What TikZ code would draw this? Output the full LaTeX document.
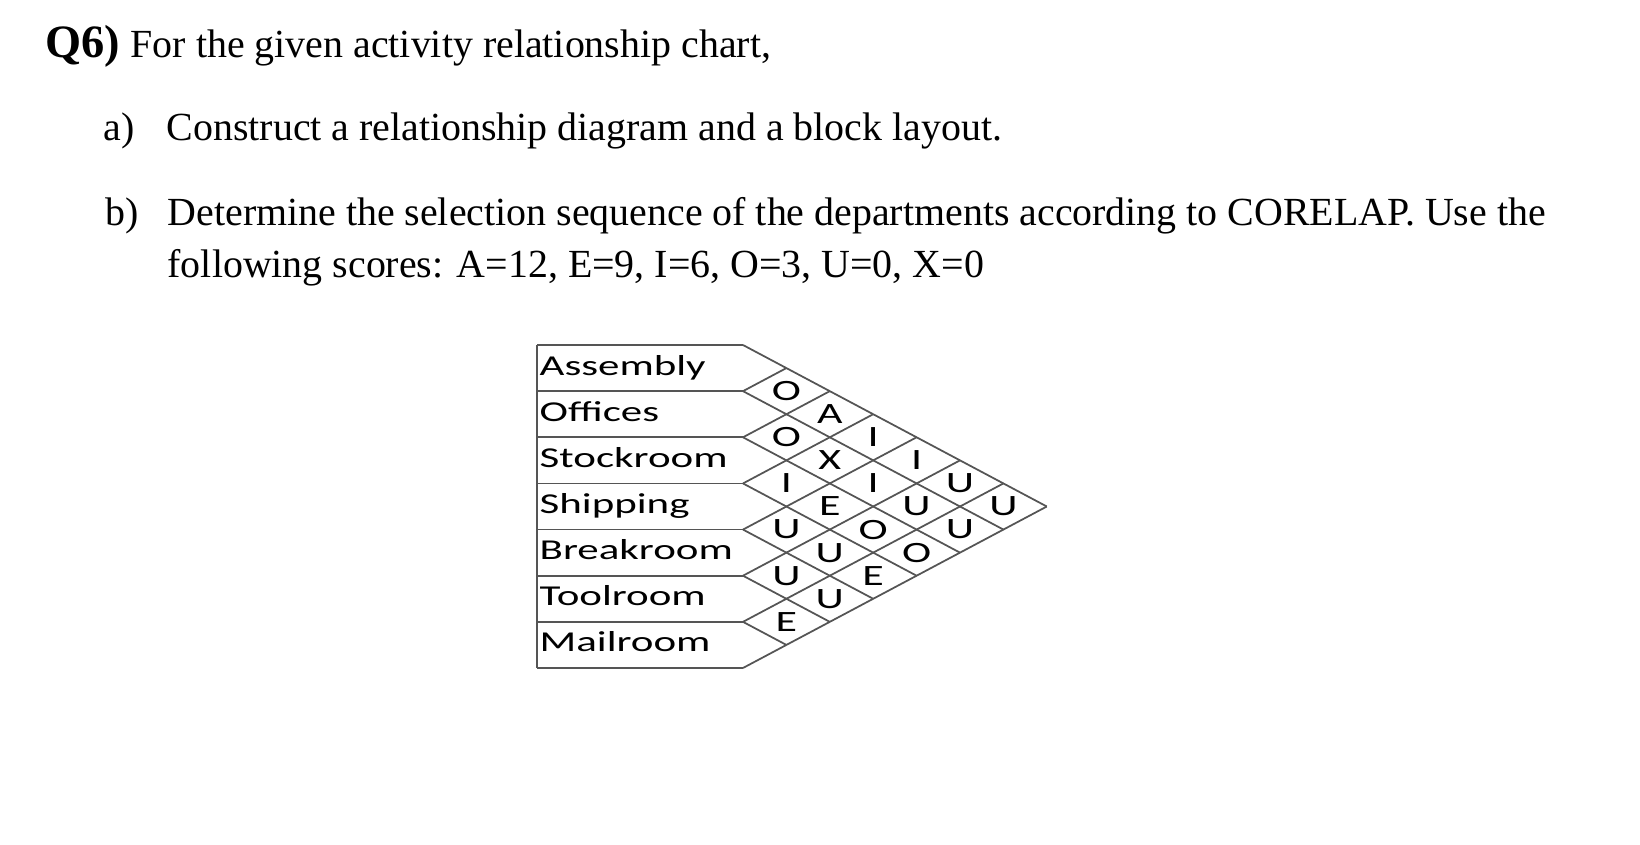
\documentclass[tikz,border=0pt]{standalone}
\usepackage{fontspec}
\setmainfont{Liberation Serif}
\newfontfamily\chartfont[FakeStretch=1.49]{Carlito}
\usetikzlibrary{positioning}
\definecolor{gridline}{HTML}{555555}

\begin{document}
\begin{tikzpicture}[x=0.1mm,y=-0.1mm,
  txt/.style={anchor=base west,inner sep=0pt,font=\fontsize{11.35pt}{13pt}\selectfont},
  dept/.style={anchor=base west,inner sep=0pt,font=\chartfont\fontsize{8.2pt}{10pt}\selectfont},
  rel/.style={inner sep=0pt,font=\chartfont\fontsize{8.4pt}{10pt}\selectfont},
  grid/.style={draw=gridline,line width=0.5pt}]
  \useasboundingbox (0,0) rectangle (1640,844);
  % question text
  \node[txt,font=\bfseries\fontsize{13.2pt}{15pt}\selectfont] (qnum) at (45,57) {Q6)};
  \node[txt] (qline) at (130,57) {For the given activity relationship chart,};
  \node[txt] (pa) at (103,140) {a)};
  \node[txt] (patext) at (166,140) {Construct a relationship diagram and a block layout.};
  \node[txt] (pb) at (105,225) {b)};
  \node[txt] (pbtext) at (167,225) {Determine the selection sequence of the departments according to CORELAP. Use the};
  \node[txt] (pbtext2) at (167,277) {following scores: A=12, E=9, I=6, O=3, U=0, X=0};
  % chart: rows
  \draw[grid] (537,345) -- (537,668);
  \foreach \b in {0,...,7}{\draw[grid] (537,{345+\b*46.14}) -- (743,{345+\b*46.14});}
  \foreach \b in {0,...,6}{\draw[grid] (743,{345+\b*46.14}) -- ++({(7-\b)*43.4},{(7-\b)*23.07});}
  \foreach \b in {1,...,7}{\draw[grid] (743,{345+\b*46.14}) -- ++({\b*43.4},{-\b*23.07});}
  % departments
  \foreach \k/\d in {1/Assembly,2/Offices,3/Stockroom,4/Shipping,5/Breakroom,6/Toolroom,7/Mailroom}
    {\node[dept] (\d) at (539,{345+(\k-0.5)*46.14+7}) {\d};}
  % relationship codes
  \foreach \i/\j/\r in {1/2/O,2/3/O,3/4/I,4/5/U,5/6/U,6/7/E,
                        1/3/A,2/4/X,3/5/E,4/6/U,5/7/U,
                        1/4/I,2/5/I,3/6/O,4/7/E,
                        1/5/I,2/6/U,3/7/O,
                        1/6/U,2/7/U,
                        1/7/U}
    {\node[rel] (r\i\j) at ({743+(\j-\i)*43.4},{345+(\i+\j-1)*23.07}) {\r};}
\end{tikzpicture}
\end{document}
